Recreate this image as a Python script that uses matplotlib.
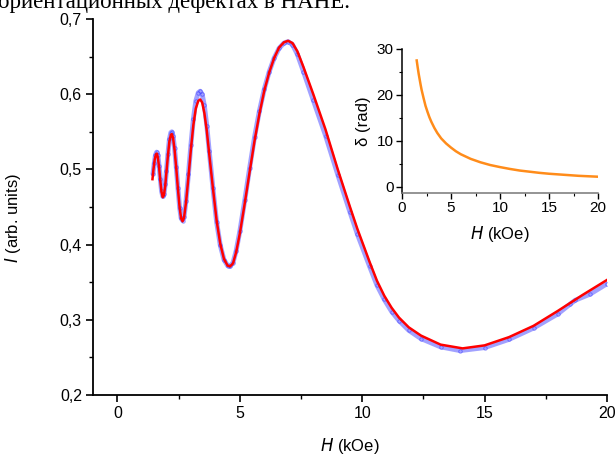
import matplotlib
matplotlib.use("Agg")
import matplotlib.pyplot as plt
from matplotlib.ticker import MultipleLocator, FuncFormatter

# ---- data ----
fit_H = [1.43, 1.47, 1.52, 1.57, 1.61, 1.65, 1.70, 1.75, 1.80, 1.85, 1.90, 1.95, 2.00,
         2.06, 2.12, 2.18, 2.22, 2.27, 2.33, 2.40, 2.47, 2.54, 2.60, 2.66, 2.72, 2.80,
         2.90, 3.00, 3.10, 3.20, 3.30, 3.38, 3.46, 3.55, 3.65, 3.75, 3.90, 4.05, 4.20,
         4.35, 4.50, 4.60, 4.72, 4.85, 5.00, 5.20, 5.40, 5.60, 5.80, 6.00, 6.20, 6.40,
         6.60, 6.80, 6.97, 7.15, 7.35, 7.60, 8.00, 8.50, 9.00, 9.50, 9.80, 10.30, 10.60,
         10.90, 11.20, 11.50, 11.90, 12.40, 13.20, 14.10, 15.00, 16.00, 17.00, 18.00,
         19.00, 20.00]
fit_I = [0.487, 0.500, 0.513, 0.520, 0.521, 0.516, 0.503, 0.485, 0.470, 0.463, 0.466,
         0.478, 0.496, 0.518, 0.537, 0.546, 0.547, 0.542, 0.527, 0.502, 0.474, 0.449,
         0.435, 0.431, 0.436, 0.456, 0.490, 0.527, 0.559, 0.581, 0.591, 0.593, 0.589,
         0.575, 0.551, 0.520, 0.475, 0.432, 0.401, 0.381, 0.372, 0.371, 0.375, 0.390,
         0.415, 0.455, 0.497, 0.538, 0.574, 0.605, 0.629, 0.648, 0.662, 0.669, 0.671,
         0.668, 0.657, 0.636, 0.600, 0.553, 0.500, 0.450, 0.421, 0.377, 0.352, 0.332,
         0.316, 0.303, 0.290, 0.279, 0.267, 0.262, 0.266, 0.277, 0.292, 0.312, 0.333,
         0.353]

exp_H = [1.45, 1.50, 1.55, 1.60, 1.65, 1.70, 1.75, 1.80, 1.85, 1.90, 1.95, 2.00, 2.06,
         2.12, 2.18, 2.22, 2.27, 2.33, 2.40, 2.47, 2.54, 2.60, 2.66, 2.72, 2.80, 2.90,
         3.00, 3.10, 3.20, 3.30, 3.38, 3.46, 3.55, 3.65, 3.75, 3.90, 4.05, 4.20, 4.35,
         4.50, 4.60, 4.72, 4.85, 5.00, 5.20, 5.40, 5.60, 5.80, 6.00, 6.20, 6.40, 6.60,
         6.80, 6.97, 7.15, 7.35, 7.60, 8.00, 8.50, 9.00, 9.50, 9.80, 10.30, 10.60, 10.90,
         11.20, 11.50, 11.90, 12.40, 13.20, 14.00, 15.00, 16.00, 17.00, 18.00, 18.50,
         18.70, 19.30, 20.00]
exp_I = [0.494, 0.508, 0.519, 0.523, 0.519, 0.505, 0.487, 0.471, 0.464, 0.467, 0.480,
         0.498, 0.521, 0.540, 0.549, 0.550, 0.545, 0.529, 0.503, 0.475, 0.449, 0.435,
         0.432, 0.437, 0.458, 0.494, 0.533, 0.567, 0.591, 0.602, 0.604, 0.600, 0.585,
         0.558, 0.524, 0.475, 0.430, 0.399, 0.380, 0.372, 0.371, 0.376, 0.392, 0.418,
         0.459, 0.502, 0.543, 0.578, 0.607, 0.630, 0.648, 0.661, 0.668, 0.670, 0.666,
         0.653, 0.630, 0.592, 0.545, 0.493, 0.443, 0.414, 0.371, 0.346, 0.327, 0.311,
         0.299, 0.286, 0.275, 0.264, 0.259, 0.263, 0.274, 0.289, 0.308, 0.321, 0.326,
         0.334, 0.348]

delta_H = [1.5, 1.6, 1.7, 1.8, 1.9, 2.0, 2.2, 2.4, 2.6, 2.8, 3.0, 3.3, 3.6, 4.0, 4.5,
           5.0, 5.5, 6.0, 7.0, 8.0, 9.0, 10.0, 11.0, 12.0, 13.0, 14.0, 15.0, 16.0,
           17.0, 18.0, 19.0, 20.0]
delta_v = [27.5, 26.0, 24.6, 23.4, 22.2, 21.1, 19.3, 17.6, 16.3, 15.1, 14.1, 12.8,
           11.7, 10.5, 9.4, 8.5, 7.7, 7.05, 6.05, 5.3, 4.7, 4.25, 3.85, 3.5, 3.25, 3.0,
           2.8, 2.65, 2.5, 2.35, 2.25, 2.15]

main_xticks = [0, 5, 10, 15, 20]
main_yticks = [0.2, 0.3, 0.4, 0.5, 0.6, 0.7]
inset_xticks = [0, 5, 10, 15, 20]
inset_yticks = [0, 10, 20, 30]

plt.rcParams['font.family'] = ['Liberation Sans', 'DejaVu Sans']
fig = plt.figure(figsize=(6.16, 4.59), dpi=100)

# caption text cut at top
fig.text(-0.003, 1 - 8 / 459, "ориентационных дефектах в НАНЕ.",
         family=['Liberation Serif', 'DejaVu Serif'], fontsize=16.5, va='baseline', ha='left')

ax = fig.add_axes([93 / 616, 1 - 395 / 459, (607 - 93) / 616, (395 - 19) / 459])
ax.plot(exp_H, exp_I, color='#3030ff', lw=3.5, alpha=0.45, solid_capstyle='round')
ax.plot(exp_H, exp_I, ls='none', marker='o', ms=2.5, mfc='none', mec='#2020ff', mew=0.6, alpha=0.5)
ax.plot(fit_H, fit_I, color='#ff0000', lw=1.8)

ax.set_xlim(-1, 20)
ax.set_ylim(0.2, 0.7)
ax.set_xticks(main_xticks)
ax.set_yticks(main_yticks)
ax.xaxis.set_minor_locator(MultipleLocator(2.5))
ax.yaxis.set_minor_locator(MultipleLocator(0.05))
ax.yaxis.set_major_formatter(FuncFormatter(lambda v, p: f"{v:.1f}".replace('.', ',')))
for s in ['top', 'right']:
    ax.spines[s].set_visible(False)
for s in ['left', 'bottom']:
    ax.spines[s].set_linewidth(1.3)
ax.tick_params(which='major', direction='out', length=5, width=1.2, labelsize=11.5, pad=3)
ax.tick_params(which='minor', direction='out', length=3, width=1.0)
ax.set_xlabel(r"$\mathit{H}$ (kOe)", fontsize=12, labelpad=11)
ax.set_ylabel(r"$\mathit{I}$ (arb. units)", fontsize=12)
ax.yaxis.set_label_coords(-0.136, 0.47)

# inset
axi = fig.add_axes([402 / 616, 1 - 193 / 459, (598 - 402) / 616, (193 - 49) / 459])
axi.plot(delta_H, delta_v, color='#ff8c1a', lw=1.8)
axi.set_xlim(0, 20)
axi.set_ylim(-1.4, 30)
axi.set_xticks(inset_xticks)
axi.set_yticks(inset_yticks)
axi.xaxis.set_minor_locator(MultipleLocator(2.5))
axi.yaxis.set_minor_locator(MultipleLocator(5))
for s in ['top', 'right']:
    axi.spines[s].set_visible(False)
axi.spines['left'].set_linewidth(1.1)
axi.spines['bottom'].set_linewidth(1.1)
axi.spines['bottom'].set_color('#777777')
axi.patch.set_alpha(0)
axi.tick_params(which='major', direction='out', length=4, width=1.0, labelsize=11, pad=2)
axi.tick_params(which='minor', direction='out', length=2, width=0.8)
axi.set_xlabel(r"$\mathit{H}$ (kOe)", fontsize=12, labelpad=6)
axi.set_ylabel("δ (rad)", fontsize=12, labelpad=4)

fig.savefig("out.png", dpi=100)
